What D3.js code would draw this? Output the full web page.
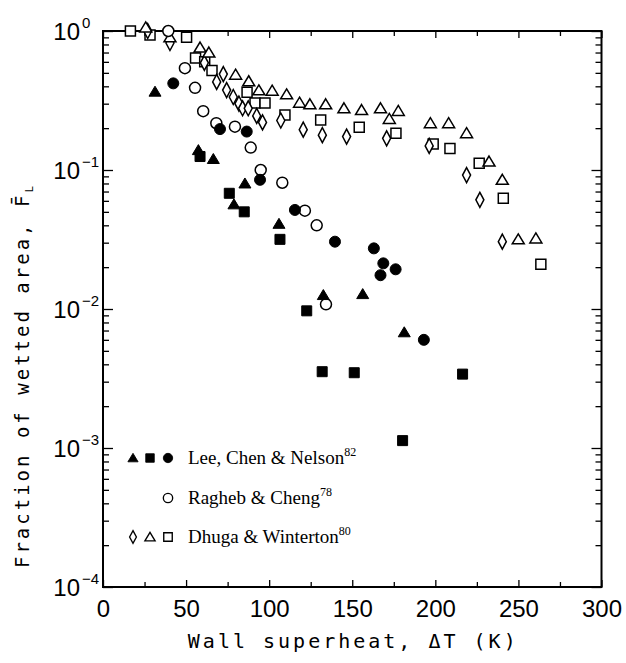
<!DOCTYPE html>
<html><head><meta charset="utf-8">
<script src="https://cdn.jsdelivr.net/npm/d3@7"></script>
<style>body{margin:0;background:#fff}</style>
</head><body>
<script>
// ---- data (ΔT in K, fraction of wetted area) ----
const leeTriangles = [[31.3,0.366],[57.4,0.139],[66.4,0.12],[78.8,0.0566],[85.4,0.080],[105.9,0.041],[132.6,0.0126],[156.3,0.0128],[181.3,0.0068]];
const leeSquares = [[58.4,0.125],[76,0.068],[85,0.050],[106.5,0.0317],[122.6,0.0097],[131.9,0.00354],[151.2,0.00348],[180.3,0.00113],[216.4,0.0034]];
const leeCircles = [[42.3,0.42],[70.4,0.197],[86.5,0.189],[94.5,0.085],[115.5,0.0516],[139.6,0.0305],[163,0.0273],[168.7,0.0213],[167,0.0175],[176.1,0.0193],[193.1,0.006]];
const raghebCircles = [[39.3,1.0],[49.3,0.54],[55.4,0.39],[60.3,0.265],[68.2,0.217],[79.4,0.205],[88.9,0.145],[94.9,0.10],[107.9,0.081],[121.5,0.051],[128.6,0.040],[134.2,0.0108]];
const dhugaDiamonds = [[26.9,1.0],[40.3,0.82],[61,0.59],[68.4,0.43],[72.4,0.49],[74.4,0.376],[78.4,0.335],[81.8,0.30],[84,0.278],[87.4,0.278],[92.5,0.245],[96,0.22],[107,0.227],[120.5,0.195],[132,0.178],[146.6,0.174],[170.7,0.169],[196.3,0.149],[218.8,0.092],[226.8,0.061],[240.3,0.0305]];
const dhugaTriangles = [[25.7,1.06],[40.3,0.90],[58.4,0.76],[63.7,0.70],[79.8,0.485],[87.7,0.435],[93.8,0.374],[101.8,0.372],[110.5,0.35],[118.3,0.305],[124.5,0.297],[134,0.297],[145,0.278],[155.6,0.27],[167,0.278],[172.3,0.233],[177.7,0.266],[197,0.217],[208,0.217],[218.8,0.184],[232.3,0.115],[240.3,0.085],[249.9,0.0317],[260.5,0.0322]];
const dhugaSquares = [[16.5,1.0],[28.3,0.935],[50.3,0.90],[55.7,0.64],[61.2,0.60],[65.6,0.52],[86.7,0.363],[91.5,0.303],[97.5,0.303],[109.5,0.249],[131,0.229],[154.2,0.203],[176.3,0.184],[198.7,0.154],[208.8,0.143],[226.4,0.112],[240.9,0.0625],[263.5,0.021]];
const xTicks = [0,50,100,150,200,250,300];
const xMinorTicks = [25,75,125,175,225,275];
const yExponents = [0,-1,-2,-3,-4];
const legendEntries = [
  {symbols:["triangle","square","circle"], filled:true, name:"Lee, Chen & Nelson", ref:"82"},
  {symbols:["circle"], filled:false, name:"Ragheb & Cheng", ref:"78"},
  {symbols:["diamond","triangle","square"], filled:false, name:"Dhuga & Winterton", ref:"80"}
];

const W=626,H=663;
const L=103,R=601.5,T=31,B=587;
const svg=d3.select("body").append("svg").attr("width",W).attr("height",H);
const x=d3.scaleLinear().domain([0,300]).range([L,R]);
const y=d3.scaleLog().domain([1e-4,1]).range([B,T]);

// symbol paths
function sym(type){
  switch(type){
    case "triangle": return "M0,-5.5L6,4.5L-6,4.5Z";
    case "square": return "M-5,-5H5V5H-5Z";
    case "circle": return d3.symbol(d3.symbolCircle, Math.PI*5.5*5.5)();
    case "diamond": return "M0,-7.5L4,0L0,7.5L-4,0Z";
  }
}
function drawSeries(data,type,filled){
  svg.append("g").selectAll("path").data(data).join("path")
    .attr("transform",d=>`translate(${x(d[0])},${y(d[1])})`)
    .attr("d",sym(type))
    .attr("fill",filled?"#000":"#fff")
    .attr("stroke","#000").attr("stroke-width",filled?1:1.5);
}

// axes
const fontTick="'Liberation Sans', Arial, sans-serif";
const gB=svg.append("g").attr("transform",`translate(0,${B})`)
  .call(d3.axisBottom(x).tickValues(xTicks).tickSize(-7).tickPadding(13).tickFormat(d3.format("d")));
gB.selectAll("text").attr("font-family",fontTick).attr("font-size",24).attr("fill","#000").attr("dy","0.71em");
svg.append("g").attr("transform",`translate(0,${B})`).call(d3.axisBottom(x).tickValues(xMinorTicks).tickSize(-5).tickFormat(""));
svg.append("g").attr("transform",`translate(0,${T})`).call(d3.axisTop(x).tickValues(xTicks).tickSize(-7).tickFormat(""));
svg.append("g").attr("transform",`translate(0,${T})`).call(d3.axisTop(x).tickValues(xMinorTicks).tickSize(-5).tickFormat(""));

const majors=yExponents.map(e=>Math.pow(10,e));
const minors=[];
yExponents.slice(1).forEach(e=>{for(let d=2;d<=9;d++)minors.push(d*Math.pow(10,e));});
svg.append("g").attr("transform",`translate(${L},0)`).call(d3.axisLeft(y).tickValues(majors).tickSize(-10).tickFormat(""));
svg.append("g").attr("transform",`translate(${L},0)`).call(d3.axisLeft(y).tickValues(minors).tickSize(-6).tickFormat(""));
svg.append("g").attr("transform",`translate(${R},0)`).call(d3.axisRight(y).tickValues(majors).tickSize(-10).tickFormat(""));
svg.append("g").attr("transform",`translate(${R},0)`).call(d3.axisRight(y).tickValues(minors).tickSize(-6).tickFormat(""));
svg.selectAll(".domain").remove();
svg.selectAll(".tick line").attr("stroke","#000").attr("stroke-width",1.3);

// y tick labels 10^e
yExponents.forEach(e=>{
  const t=svg.append("text").attr("x",80).attr("y",y(Math.pow(10,e))+9)
    .attr("text-anchor","end").attr("font-family",fontTick).attr("font-size",24).attr("fill","#000");
  t.text("10");
  svg.append("text").attr("x",82).attr("y",y(Math.pow(10,e))-3)
    .attr("font-family",fontTick).attr("font-size",15).attr("fill","#000")
    .text(e===0?"0":"\u2212"+(-e));
});

// frame
svg.append("rect").attr("x",L).attr("y",T).attr("width",R-L).attr("height",B-T)
  .attr("fill","none").attr("stroke","#000").attr("stroke-width",2);

// data
drawSeries(dhugaSquares,"square",false);
drawSeries(dhugaDiamonds,"diamond",false);
drawSeries(dhugaTriangles,"triangle",false);
drawSeries(raghebCircles,"circle",false);
drawSeries(leeSquares,"square",true);
drawSeries(leeTriangles,"triangle",true);
drawSeries(leeCircles,"circle",true);

// axis titles
const fontLab="'DejaVu Sans Mono', monospace";
svg.append("text").attr("x",(L+R)/2+1).attr("y",648).attr("text-anchor","middle")
  .attr("font-family",fontLab).attr("font-size",20).attr("letter-spacing",3).attr("fill","#000")
  .text("Wall superheat, \u0394T (K)");
const yl=svg.append("text").attr("transform","translate(29,377) rotate(-90)").attr("text-anchor","middle")
  .attr("font-family",fontLab).attr("font-size",19).attr("letter-spacing",3).attr("fill","#000");
yl.append("tspan").text("Fraction of wetted area, F\u0304");
yl.append("tspan").attr("font-size",11).attr("dy",4).attr("letter-spacing",0).text("L");

// legend
const legY=[458,498,537];
const symX=[133,150,168];
legendEntries.forEach((en,i)=>{
  const n=en.symbols.length;
  en.symbols.forEach((s,j)=>{
    const sx=symX[3-n+j];
    const scale=s==="diamond"?0.85:0.85;
    svg.append("path").attr("transform",`translate(${sx},${legY[i]}) scale(${scale})`)
      .attr("d",sym(s)).attr("fill",en.filled?"#000":"#fff").attr("stroke","#000").attr("stroke-width",en.filled?1:1.6);
  });
  const t=svg.append("text").attr("x",188).attr("y",legY[i]+6)
    .attr("font-family","'Liberation Serif', 'Times New Roman', serif").attr("font-size",19).attr("fill","#000");
  t.append("tspan").text(en.name);
  t.append("tspan").attr("font-size",12).attr("dy",-8).text(en.ref);
});
</script>
</body></html>
